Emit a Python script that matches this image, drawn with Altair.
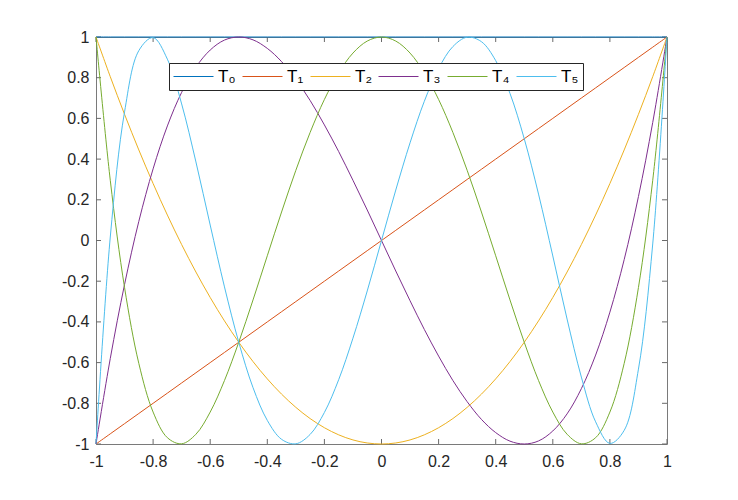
import altair as alt
import pandas as pd

X = [-1.0, -0.95, -0.9, -0.85, -0.8, -0.75, -0.7, -0.65, -0.6, -0.55, -0.5,
     -0.45, -0.4, -0.35, -0.3, -0.25, -0.2, -0.15, -0.1, -0.05, 0.0,
     0.05, 0.1, 0.15, 0.2, 0.25, 0.3, 0.35, 0.4, 0.45, 0.5,
     0.55, 0.6, 0.65, 0.7, 0.75, 0.8, 0.85, 0.9, 0.95, 1.0]

T0 = [1.0, 1.0, 1.0, 1.0, 1.0, 1.0, 1.0, 1.0, 1.0, 1.0, 1.0,
      1.0, 1.0, 1.0, 1.0, 1.0, 1.0, 1.0, 1.0, 1.0, 1.0,
      1.0, 1.0, 1.0, 1.0, 1.0, 1.0, 1.0, 1.0, 1.0, 1.0,
      1.0, 1.0, 1.0, 1.0, 1.0, 1.0, 1.0, 1.0, 1.0, 1.0]

T1 = [-1.0, -0.95, -0.9, -0.85, -0.8, -0.75, -0.7, -0.65, -0.6, -0.55, -0.5,
      -0.45, -0.4, -0.35, -0.3, -0.25, -0.2, -0.15, -0.1, -0.05, 0.0,
      0.05, 0.1, 0.15, 0.2, 0.25, 0.3, 0.35, 0.4, 0.45, 0.5,
      0.55, 0.6, 0.65, 0.7, 0.75, 0.8, 0.85, 0.9, 0.95, 1.0]

T2 = [1.0, 0.805, 0.62, 0.445, 0.28, 0.125, -0.02, -0.155, -0.28, -0.395, -0.5,
      -0.595, -0.68, -0.755, -0.82, -0.875, -0.92, -0.955, -0.98, -0.995, -1.0,
      -0.995, -0.98, -0.955, -0.92, -0.875, -0.82, -0.755, -0.68, -0.595, -0.5,
      -0.395, -0.28, -0.155, -0.02, 0.125, 0.28, 0.445, 0.62, 0.805, 1.0]

T3 = [-1.0, -0.58, -0.216, 0.094, 0.352, 0.563, 0.728, 0.852, 0.936, 0.985, 1.0,
      0.986, 0.944, 0.879, 0.792, 0.688, 0.568, 0.437, 0.296, 0.15, 0.0,
      -0.15, -0.296, -0.437, -0.568, -0.688, -0.792, -0.879, -0.944, -0.986, -1.0,
      -0.985, -0.936, -0.852, -0.728, -0.563, -0.352, -0.094, 0.216, 0.58, 1.0]

T4 = [1.0, 0.296, -0.231, -0.604, -0.843, -0.969, -0.999, -0.952, -0.843, -0.688, -0.5,
      -0.292, -0.075, 0.14, 0.345, 0.531, 0.693, 0.824, 0.921, 0.98, 1.0,
      0.98, 0.921, 0.824, 0.693, 0.531, 0.345, 0.14, -0.075, -0.292, -0.5,
      -0.688, -0.843, -0.952, -0.999, -0.969, -0.843, -0.604, -0.231, 0.296, 1.0]

T5 = [-1.0, 0.017, 0.632, 0.933, 0.997, 0.891, 0.671, 0.386, 0.076, -0.228, -0.5,
      -0.723, -0.884, -0.977, -0.999, -0.953, -0.845, -0.684, -0.48, -0.248, 0.0,
      0.248, 0.48, 0.684, 0.845, 0.953, 0.999, 0.977, 0.884, 0.723, 0.5,
      0.228, -0.076, -0.386, -0.671, -0.891, -0.997, -0.933, -0.632, -0.017, 1.0]

SERIES = ["T₀", "T₁", "T₂", "T₃", "T₄", "T₅"]
COLORS = ["#0072BD", "#D95319", "#EDB120", "#7E2F8E", "#77AC30", "#4DBEEE"]
TICKS = [-1, -0.8, -0.6, -0.4, -0.2, 0, 0.2, 0.4, 0.6, 0.8, 1]

W, H = 571, 407

rows = []
for i, (name, vals) in enumerate(zip(SERIES, [T0, T1, T2, T3, T4, T5])):
    for j, (x, y) in enumerate(zip(X, vals)):
        rows.append({"series": name, "order": i, "x": x, "y": y, "idx": j})
df = pd.DataFrame(rows)
ticks_df = pd.DataFrame({"t": TICKS})

font = "Liberation Sans"
xscale = alt.Scale(domain=[-1, 1], nice=False, zero=False)
yscale = alt.Scale(domain=[-1, 1], nice=False, zero=False)

def mk_axis(pad):
    return alt.Axis(values=TICKS, labelExpr="'' + datum.value", tickSize=0,
                    domain=False, grid=False, labelFont=font, labelFontSize=16,
                    labelColor="#262626", labelOverlap=False, labelFlush=False,
                    labelPadding=pad, title=None)

lines = alt.Chart(df).mark_line(interpolate="catmull-rom", strokeWidth=1).encode(
    x=alt.X("x:Q", scale=xscale, axis=mk_axis(9)),
    y=alt.Y("y:Q", scale=yscale, axis=mk_axis(7)),
    color=alt.Color("series:N", scale=alt.Scale(domain=SERIES, range=COLORS),
                    legend=alt.Legend(orient="none", legendX=73, legendY=26,
                                      direction="horizontal", columns=6,
                                      symbolType="stroke", symbolSize=1600,
                                      symbolStrokeWidth=1, labelFont=font,
                                      labelFontSize=17, labelColor="#000000",
                                      labelOffset=4, columnPadding=6, padding=4,
                                      rowPadding=0, clipHeight=19,
                                      strokeColor="#262626", fillColor="white",
                                      title=None)),
    detail="series:N",
    order=alt.Order("idx:Q"),
)

tick_col = "#6a6a6a"
xt = alt.Chart(ticks_df)
bottom_ticks = xt.mark_rule(color=tick_col, strokeWidth=1).encode(
    x=alt.X("t:Q", scale=xscale), y=alt.value(H), y2=alt.value(H - 5))
top_ticks = xt.mark_rule(color=tick_col, strokeWidth=1).encode(
    x=alt.X("t:Q", scale=xscale), y=alt.value(0), y2=alt.value(5))
left_ticks = xt.mark_rule(color=tick_col, strokeWidth=1).encode(
    y=alt.Y("t:Q", scale=yscale), x=alt.value(0), x2=alt.value(5))
right_ticks = xt.mark_rule(color=tick_col, strokeWidth=1).encode(
    y=alt.Y("t:Q", scale=yscale), x=alt.value(W), x2=alt.value(W - 5))

chart = alt.layer(bottom_ticks, top_ticks, left_ticks, right_ticks, lines).properties(
    width=W, height=H,
    autosize=alt.AutoSizeParams(type="none"),
    padding={"left": 88, "top": 29, "right": 60, "bottom": 40},
    background="white",
).configure_view(stroke="#7a7a7a", strokeWidth=1)

chart.save("out.html", embed_options={"renderer": "svg", "actions": False})
